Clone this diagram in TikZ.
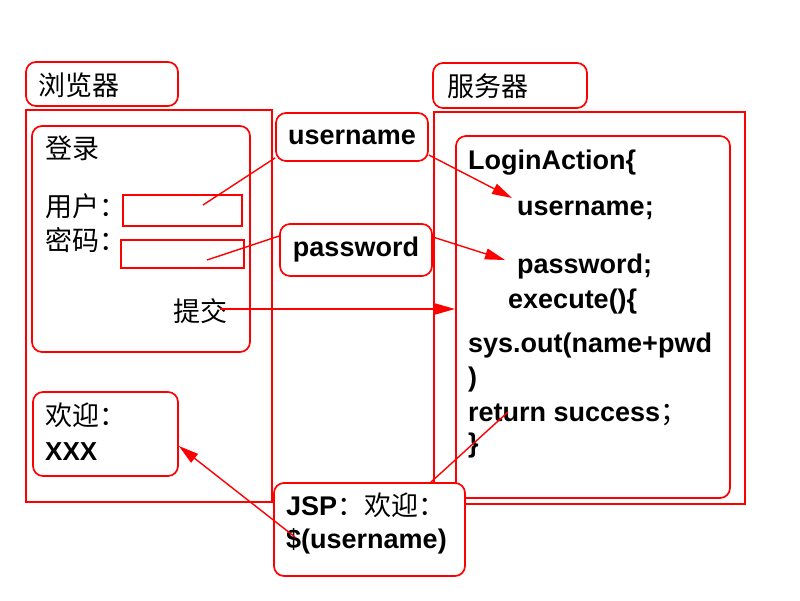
\documentclass[tikz,border=0pt]{standalone}
\usepackage{fontspec}
\setmainfont{Liberation Sans}
\newfontfamily\cjk{Noto Sans CJK SC}
\usetikzlibrary{arrows.meta}
\begin{document}
\begin{tikzpicture}[x=1pt,y=-1pt,
  sqbox/.style={draw=red, line width=1.7pt, inner sep=0pt},
  rbox/.style={draw=red, line width=1.7pt, rounded corners=10pt, inner sep=0pt},
  lat/.style={font=\fontsize{27}{30}\selectfont\bfseries, inner sep=0pt, anchor=base west},
  zh/.style={font=\fontsize{27}{30}\selectfont\cjk, inner sep=0pt, anchor=base west},
  link/.style={draw=red, line width=1.4pt},
  arr/.style={link, -{Triangle[length=20pt,width=11pt]}}
]
\useasboundingbox (0,0) rectangle (800,600);
% boxes
\node[sqbox, minimum width=246pt, minimum height=392pt] (browser) at (149,306) {};
\node[rbox, minimum width=152pt, minimum height=44pt] (blabel) at (102,84) {};
\node[rbox, minimum width=218pt, minimum height=226pt] (login) at (141,239) {};
\node[sqbox, minimum width=119pt, minimum height=31pt] (uinput) at (182.5,210.5) {};
\node[sqbox, minimum width=123pt, minimum height=28pt] (pinput) at (182.5,254) {};
\node[rbox, minimum width=152pt, minimum height=48pt, font=\fontsize{27}{30}\selectfont\bfseries] (ubox) at (352,137) {username};
\node[rbox, minimum width=152pt, minimum height=52pt, font=\fontsize{27}{30}\selectfont\bfseries] (pbox) at (356,250) {password};
\node[rbox, minimum width=154pt, minimum height=45pt] (slabel) at (510,85.5) {};
\node[sqbox, minimum width=311pt, minimum height=392pt] (server) at (589.5,308) {};
\node[rbox, minimum width=274pt, minimum height=362pt] (action) at (593,317) {};
\node[rbox, minimum width=145pt, minimum height=84pt] (welcome) at (105.5,434) {};
\node[rbox, fill=white, minimum width=191pt, minimum height=93pt] (jsp) at (369.5,529.5) {};
% texts
\node[zh] (tb) at (38,95) {浏览器};
\node[zh] (ts) at (447,96) {服务器};
\node[zh] (tlogin) at (45,158) {登录};
\node[zh] (tuser) at (45,216) {用户：};
\node[zh] (tpwd) at (45,250) {密码：};
\node[zh] (submit) at (173,321) {提交};
\node[lat] (a1) at (468,169) {LoginAction\{};
\node[lat] (a2) at (517,215) {username;};
\node[lat] (a3) at (517,273) {password;};
\node[lat] (a4) at (508,308) {execute()\{};
\node[lat] (a5) at (468,352) {sys.out(name+pwd};
\node[lat] (a6) at (468,386) {)};
\node[lat] (a7) at (468,421) {return success{\normalfont\cjk ；}};
\node[lat] (a8) at (468,452) {\}};
\node[zh] (w1) at (45,425) {欢迎：};
\node[lat, font=\fontsize{26}{30}\selectfont\bfseries] (w2) at (45,460) {XXX};
\node[lat] (j1) at (286,515) {JSP{\normalfont\cjk\fontsize{27}{30}\selectfont ：欢迎：}};
\node[lat] (j2) at (286,548) {\$(username)};
% free ends
\coordinate (uIn) at (203,205);
\coordinate (pIn) at (207,260);
\coordinate (uT) at (512,198);
\coordinate (pT) at (505,260);
\coordinate (retT) at (508,412);
\coordinate (jspS) at (295,537);
\coordinate (subS) at (220,309);
\coordinate (subT) at (455,309);
% connectors
\draw[link] ([yshift=4pt]ubox.south west) -- (uIn);
\draw[link] ([yshift=14pt]pbox.west) -- (pIn);
\draw[arr] ([yshift=-18pt]ubox.east) -- (uT);
\draw[arr] ([yshift=13pt]pbox.east) -- (pT);
\draw[arr] (subS) -- (subT);
\draw[link] ([xshift=-35pt]jsp.north east) -- (retT);
\draw[arr] (jspS) -- ([yshift=-12pt]welcome.east);
\end{tikzpicture}
\end{document}
